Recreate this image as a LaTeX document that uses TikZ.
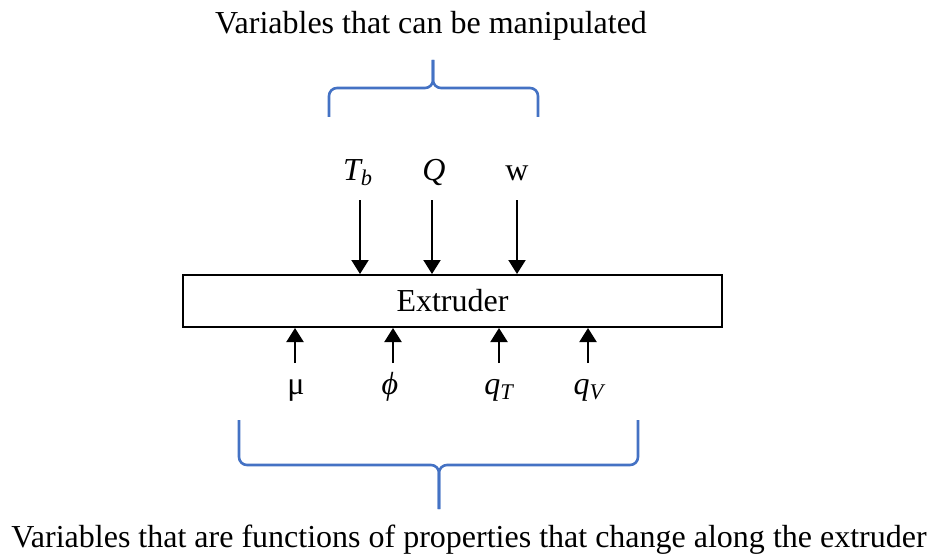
\documentclass[tikz,border=0pt]{standalone}
\usepackage{fontspec}
\setmainfont{Liberation Serif}
\usetikzlibrary{arrows.meta}
\definecolor{braceblue}{RGB}{68,114,196}
\begin{document}
\begin{tikzpicture}[x=0.5pt,y=-0.5pt,
    every node/.style={font=\fontsize{16}{19}\selectfont},
    lab/.style={anchor=base,inner sep=0pt},
    feed/.style={-{Triangle[length=7pt,width=8.5pt]},line width=1pt},
    curly/.style={braceblue,line width=1.3pt,rounded corners=4pt}]
  \useasboundingbox (0,0) rectangle (936,556);
  \node[draw,line width=1pt,minimum width=269.5pt,minimum height=26pt] (ext) at (452.5,301) {Extruder};
  \node[lab] (top) at (431,34) {Variables that can be manipulated};
  \node[lab] (bottom) at (469,547) {Variables that are functions of properties that change along the extruder};
  \draw
    (358,180) node[lab] (tb){\textit{T\textsubscript{b}}}
    (434,180) node[lab] (q){\textit{Q}}
    (517,180) node[lab] (w){w}
    (296,394) node[lab] (mu){μ}
    (390,394) node[lab] (phi){\textit{ϕ}}
    (499,394) node[lab] (qt){\textit{q\textsubscript{T}}}
    (589,394) node[lab] (qv){\textit{q\textsubscript{V}}};
  \begin{scope}[feed]
    \draw (360,200) -- (360,200 |- ext.north);
    \draw (432,200) -- (432,200 |- ext.north);
    \draw (517,200) -- (517,200 |- ext.north);
    \draw (295,363) -- (295,363 |- ext.south);
    \draw (393,363) -- (393,363 |- ext.south);
    \draw (499,363) -- (499,363 |- ext.south);
    \draw (588,363) -- (588,363 |- ext.south);
  \end{scope}
  % braces
  \draw[curly] (329,117) |- (433,88) -- (433,60);
  \draw[curly] (538,117) |- (433,88) -- (433,60);
  \draw[curly] (239,420) |- (439,465) -- (439,509);
  \draw[curly] (638,420) |- (439,465) -- (439,509);
\end{tikzpicture}
\end{document}
